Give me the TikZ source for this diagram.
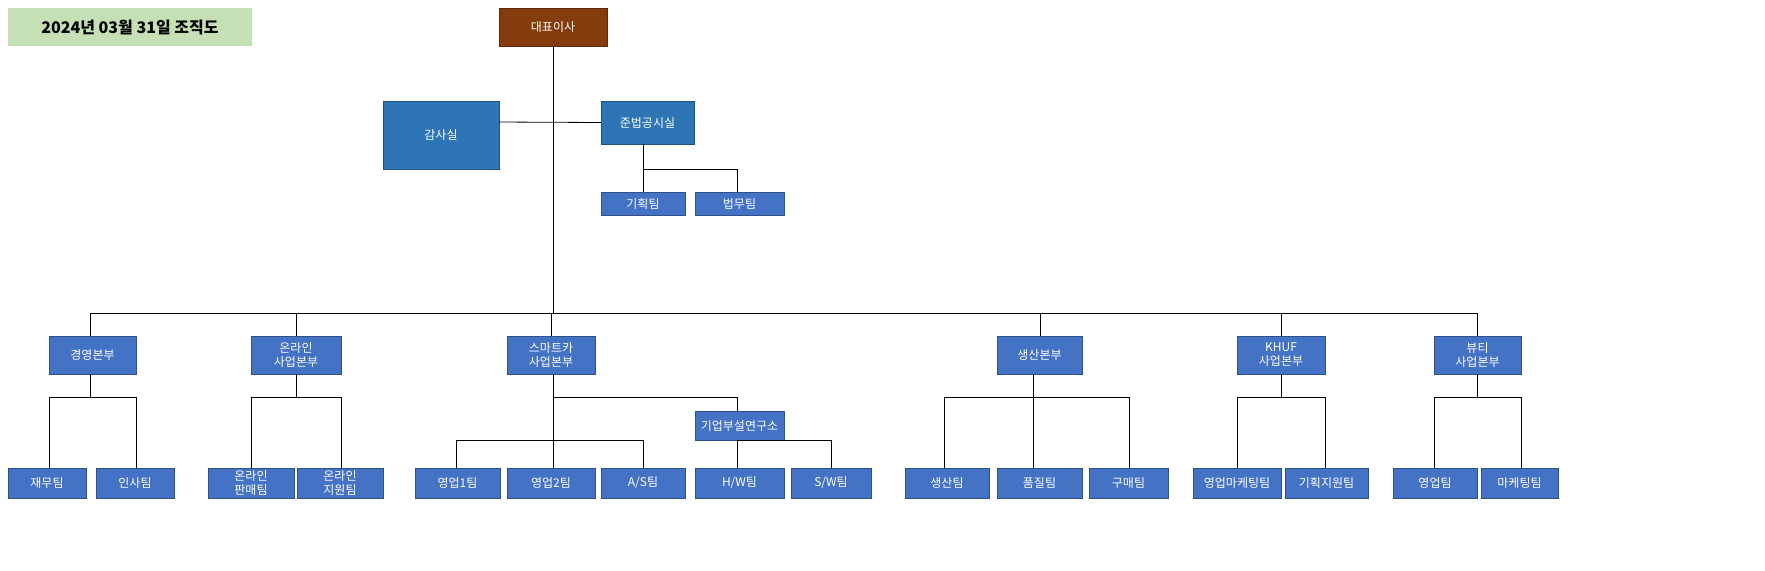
\documentclass[tikz,border=0pt]{standalone}
\usepackage{fontspec}
\setmainfont{Noto Sans CJK KR}
\begin{document}
\begin{tikzpicture}[x=0.5pt,y=-0.5pt,
  box/.style={fill=#1,draw=#1!70!black,line width=0.2pt,text=white,font=\fontsize{6}{7}\selectfont,align=center,inner sep=0pt},
  ln/.style={line width=0.4pt}]
\definecolor{bl}{HTML}{4472C4}\definecolor{db}{HTML}{2E75B6}\definecolor{br}{HTML}{843C0C}\definecolor{gr}{HTML}{C5E0B4}
\newcommand\bx[7]{\node[box=#6,minimum width={(#3-#2)*0.5pt},minimum height={(#5-#4)*0.5pt}] (#1) at ({(#2+#3)/2},{(#4+#5)/2}) {#7};}
\node[fill=gr,minimum width=122pt,minimum height=19pt,inner sep=0pt,font=\fontsize{8}{9.5}\selectfont\bfseries] (t) at (130,27) {2024년 03월 31일 조직도};
\bx{ceo}{499}{607}{8}{46}{br}{대표이사}
\bx{aud}{383}{499}{101}{169}{db}{감사실}
\bx{cmp}{601}{694}{101}{144}{db}{준법공시실}
\bx{plan}{601}{685}{192}{215}{bl}{기획팀}
\bx{law}{695}{784}{192}{215}{bl}{법무팀}
\bx{m1}{49}{136}{336}{374}{bl}{경영본부}
\bx{m2}{251}{341}{336}{374}{bl}{온라인\\사업본부}
\bx{m3}{507}{595}{336}{374}{bl}{스마트카\\사업본부}
\bx{m4}{997}{1082}{336}{374}{bl}{생산본부}
\bx{m5}{1237}{1325}{336}{374}{bl}{KHUF\\사업본부}
\bx{m6}{1434}{1521}{336}{374}{bl}{뷰티\\사업본부}
\bx{lab}{695}{784}{411}{440}{bl}{기업부설연구소}
\bx{a1}{8}{86}{468}{498}{bl}{재무팀}
\bx{a2}{96}{174}{468}{498}{bl}{인사팀}
\bx{b1}{208}{294}{468}{498}{bl}{온라인\\판매팀}
\bx{b2}{297}{383}{468}{498}{bl}{온라인\\지원팀}
\bx{c1}{415}{500}{468}{498}{bl}{영업1팀}
\bx{c2}{507}{595}{468}{498}{bl}{영업2팀}
\bx{c3}{601}{685}{468}{498}{bl}{A/S팀}
\bx{c4}{695}{784}{468}{498}{bl}{H/W팀}
\bx{c5}{791}{871}{468}{498}{bl}{S/W팀}
\bx{d1}{905}{989}{468}{498}{bl}{생산팀}
\bx{d2}{997}{1082}{468}{498}{bl}{품질팀}
\bx{d3}{1089}{1168}{468}{498}{bl}{구매팀}
\bx{e1}{1193}{1281}{468}{498}{bl}{영업마케팅팀}
\bx{e2}{1285}{1368}{468}{498}{bl}{기획지원팀}
\bx{f1}{1393}{1477}{468}{498}{bl}{영업팀}
\bx{f2}{1481}{1558}{468}{498}{bl}{마케팅팀}
\draw[ln] (ceo.south) -- (553,313);
\draw[ln] (aud.east |- 0,122) -- (cmp.west);
\draw[ln] (90,336) -- (90,313) -- (1477,313) -- (1477,336);
\foreach \x in {296,551,1040,1281} \draw[ln] (\x,313) -- (\x,336);
\draw[ln] (643,144) -- (643,169) -- (737,169) -- (737,192);
\draw[ln] (643,169) -- (643,192);
\draw[ln] (90,374) -- (90,397); \draw[ln] (49,468) -- (49,397) -- (136,397) -- (136,468);
\draw[ln] (296,374) -- (296,397); \draw[ln] (251,468) -- (251,397) -- (341,397) -- (341,468);
\draw[ln] (553,374) -- (553,468);
\draw[ln] (553,397) -- (737,397) -- (737,411);
\draw[ln] (456,468) -- (456,440) -- (643,440) -- (643,468);
\draw[ln] (737,440) -- (737,468); \draw[ln] (737,440) -- (831,440) -- (831,468);
\draw[ln] (1033,374) -- (1033,468); \draw[ln] (944,468) -- (944,397) -- (1129,397) -- (1129,468);
\draw[ln] (1281,374) -- (1281,397); \draw[ln] (1237,468) -- (1237,397) -- (1325,397) -- (1325,468);
\draw[ln] (1477,374) -- (1477,397); \draw[ln] (1434,468) -- (1434,397) -- (1521,397) -- (1521,468);
\pgfresetboundingbox
\path[use as bounding box] (0,0) rectangle (1765,570);
\end{tikzpicture}
\end{document}
